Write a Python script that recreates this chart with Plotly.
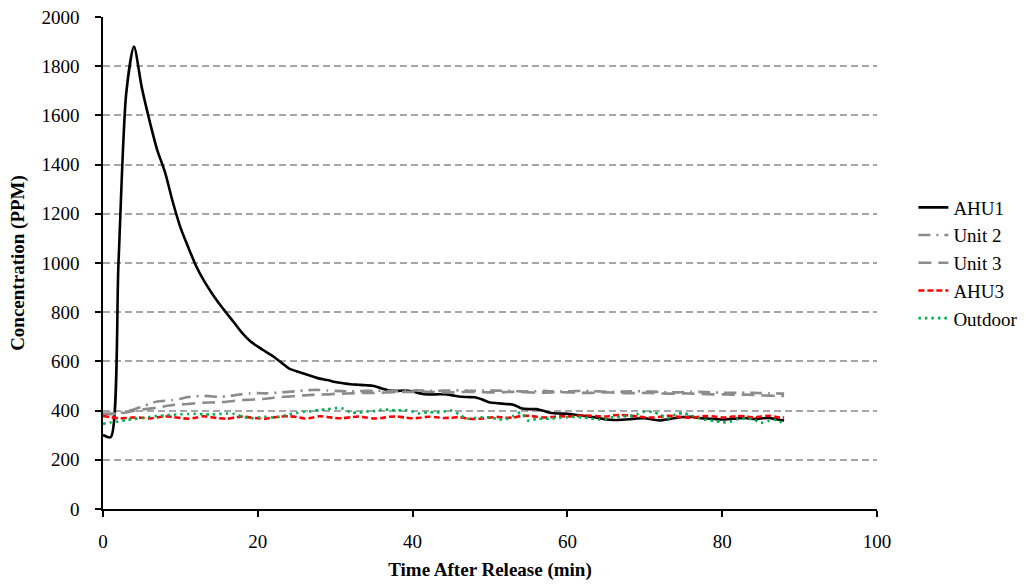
import plotly.graph_objects as go

# Time after release (min), one sample per minute
time_min = list(range(0, 89))

ahu1 = [301, 292, 1000, 1690, 1880, 1715, 1580, 1460, 1370, 1250,
        1145, 1065, 990, 930, 880, 835, 795, 755, 715, 683,
        660, 640, 620, 596, 572, 560, 550, 540, 530, 524,
        516, 511, 507, 505, 503, 500, 490, 482, 480, 482,
        478, 470, 466, 466, 467, 463, 457, 455, 454, 445,
        433, 430, 427, 424, 410, 406, 406, 398, 390, 388,
        387, 383, 379, 375, 370, 364, 362, 363, 365, 368,
        369, 364, 360, 365, 370, 374, 375, 370, 368, 366,
        364, 366, 368, 370, 366, 368, 370, 365, 360]

unit2 = [388, 388, 390, 395, 405, 415, 428, 437, 440, 443,
         448, 455, 458, 460, 458, 456, 458, 462, 467, 470,
         471, 470, 472, 474, 476, 479, 482, 484, 484, 482,
         480, 479, 478, 479, 480, 481, 480, 479, 480, 481,
         482, 482, 481, 480, 481, 482, 482, 481, 480, 481,
         482, 481, 480, 479, 478, 478, 479, 480, 478, 477,
         478, 479, 480, 479, 478, 477, 476, 477, 478, 479,
         478, 477, 475, 474, 474, 475, 476, 476, 475, 474,
         473, 472, 472, 473, 472, 471, 470, 470, 469]

unit3 = [385, 385, 387, 392, 400, 404, 408, 412, 418, 423,
         425, 427, 430, 432, 433, 434, 436, 440, 443, 444,
         446, 448, 452, 455, 457, 460, 462, 464, 465, 466,
         468, 469, 470, 471, 472, 472, 473, 474, 475, 476,
         476, 477, 476, 475, 474, 474, 475, 476, 476, 475,
         474, 474, 475, 476, 475, 474, 473, 473, 474, 475,
         474, 473, 472, 472, 473, 474, 473, 472, 471, 471,
         472, 471, 470, 469, 469, 470, 469, 468, 467, 466,
         466, 465, 464, 465, 464, 462, 461, 460, 460]

ahu3 = [378, 373, 369, 370, 372, 371, 368, 372, 377, 374,
        370, 367, 371, 377, 373, 369, 367, 372, 376, 372,
        369, 367, 372, 376, 377, 374, 368, 371, 377, 374,
        370, 369, 373, 376, 372, 368, 370, 375, 376, 372,
        369, 371, 375, 373, 370, 371, 374, 368, 366, 368,
        372, 374, 371, 372, 378, 379, 375, 372, 374, 377,
        376, 378, 380, 379, 377, 376, 381, 382, 380, 376,
        373, 372, 375, 379, 376, 373, 371, 375, 378, 376,
        372, 374, 378, 376, 372, 376, 379, 374, 372]

outdoor = [346, 352, 356, 362, 366, 370, 374, 378, 380, 383,
           385, 386, 387, 385, 384, 386, 388, 386, 376, 369,
           372, 375, 372, 376, 385, 390, 395, 398, 403, 405,
           410, 408, 393, 392, 396, 398, 404, 403, 400, 402,
           395, 388, 394, 392, 396, 400, 385, 367, 370, 373,
           372, 366, 364, 378, 392, 358, 366, 367, 368, 370,
           373, 374, 372, 368, 364, 366, 374, 377, 378, 385,
           396, 395, 383, 369, 385, 390, 380, 370, 362, 358,
           352, 355, 365, 368, 365, 350, 358, 362, 345]

x_ticks = [0, 20, 40, 60, 80, 100]
y_ticks = [0, 200, 400, 600, 800, 1000, 1200, 1400, 1600, 1800, 2000]

FONT = "Liberation Serif"

series = [
    ("AHU1", ahu1, "#000000", "solid", 2.6),
    ("Unit 2", unit2, "#8c8c8c", "12px,6px,2px,6px", 2.6),
    ("Unit 3", unit3, "#8c8c8c", "13px,7px", 2.6),
    ("AHU3", ahu3, "#ff0000", "6px,3px", 2.6),
    ("Outdoor", outdoor, "#00b050", "2.5px,4px", 2.6),
]

fig = go.Figure()
for name, vals, color, dash, width in series:
    fig.add_trace(go.Scatter(
        x=time_min, y=vals, name=name, mode="lines",
        line=dict(color=color, dash=dash, width=width, shape="spline", smoothing=0.7),
    ))

fig.update_layout(
    width=1033, height=585,
    margin=dict(l=103, r=156, t=17, b=76, autoexpand=False),
    paper_bgcolor="white", plot_bgcolor="white",
    font=dict(family=FONT, size=19, color="black"),
    legend=dict(x=1.047, xanchor="left", y=0.5, yanchor="middle",
                font=dict(family=FONT, size=19, color="black"),
                bgcolor="rgba(0,0,0,0)"),
    showlegend=True,
)

fig.update_xaxes(
    range=[0, 100], tickvals=x_ticks,
    tickfont=dict(family=FONT, size=19, color="black"),
    showgrid=False, zeroline=False,
    showline=True, linecolor="black", linewidth=1.5,
    ticks="outside", ticklen=6, tickwidth=1.5, tickcolor="black",
    ticklabelstandoff=8,
    title=dict(text="<b>Time After Release (min)</b>", standoff=12,
               font=dict(family=FONT, size=19, color="black")),
    automargin=False,
)
fig.update_yaxes(
    range=[0, 2000], tickvals=y_ticks,
    tickfont=dict(family=FONT, size=19, color="black"),
    showgrid=True, gridcolor="#a6a6a6", gridwidth=1.5, griddash="7px,4px",
    zeroline=False,
    showline=True, linecolor="black", linewidth=1.5,
    ticks="outside", ticklen=6, tickwidth=1.5, tickcolor="black",
    ticklabelstandoff=12,
    title=dict(text="<b>Concentration (PPM)</b>", standoff=12,
               font=dict(family=FONT, size=19, color="black")),
    automargin=False,
)

fig.write_html("out.html")
